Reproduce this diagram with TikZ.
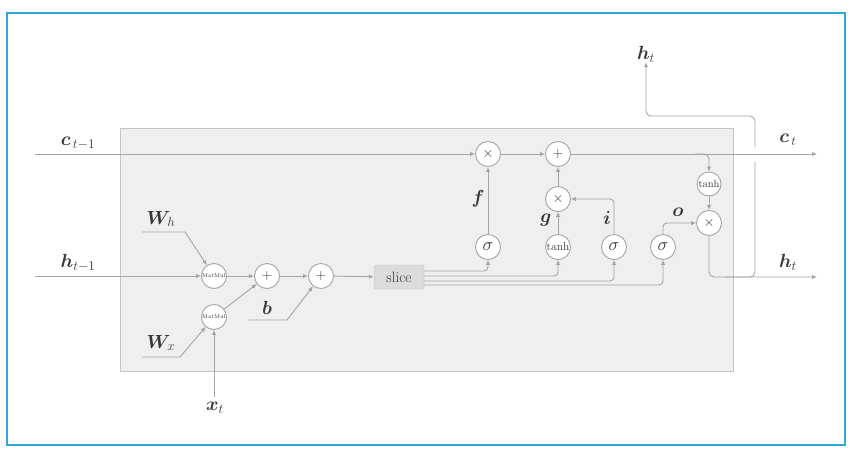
\RequirePackage{fix-cm}
\documentclass[tikz,border=0pt]{standalone}
\usepackage{amsmath,bm}
\usetikzlibrary{arrows.meta}
\definecolor{lncol}{HTML}{A5A5A5}
\definecolor{txtcol}{HTML}{383838}
\definecolor{boxfill}{HTML}{EFEFEF}
\definecolor{boxline}{HTML}{C4C4C4}
\definecolor{framecol}{HTML}{2FA7DD}
\definecolor{slicefill}{HTML}{DCDCDC}
\tikzset{
  opnode/.style={circle, draw=lncol, fill=white, line width=0.9pt, minimum size=25pt, inner sep=0pt, text=txtcol},
  lbl/.style={text=txtcol, font=\fontsize{19}{22}\selectfont, inner sep=0pt},
  glbl/.style={text=txtcol, font=\fontsize{19}{22}\selectfont, inner sep=0pt},
  conn/.style={draw=lncol, line width=0.9pt},
  arr/.style={conn, -{Latex[length=5pt,width=4.5pt]}},
  sym/.style={font=\fontsize{14}{16}\selectfont},
  sig/.style={font=\fontsize{18}{20}\selectfont},
  th/.style={font=\fontsize{11.5}{13}\selectfont},
  mm/.style={font=\fontsize{5.5}{6}\selectfont},
}
\begin{document}
\begin{tikzpicture}[x=1pt,y=-1pt]
\useasboundingbox (0,0) rectangle (852,448);
\draw[framecol, line width=1.3pt] (7,13) rectangle (845,445);
% gray box
\draw[boxline, fill=boxfill, line width=0.8pt] (120,128) rectangle (733,371);

% input labels and coordinates
\coordinate (cin) at (35,154);
\coordinate (hin) at (35,276);
\node[lbl] (clab) at (78,143) {$\bm{c}_{\,t-1}$};
\node[lbl] (hlab) at (78,263) {$\bm{h}_{t-1}$};
\node[lbl] (whlab) at (161,219) {$\bm{W}_{h}$};
\node[lbl] (wxlab) at (161,343) {$\bm{W}_{x}$};
\node[lbl] (xlab) at (215,408) {$\bm{x}_{t}$};
\node[glbl] (blab) at (267,308) {$\bm{b}$};
\coordinate (wh0) at (142,232);
\coordinate (wh1) at (185,232);
\coordinate (wx0) at (142,357);
\coordinate (wx1) at (180,357);
\coordinate (b0) at (248,320);
\coordinate (b1) at (287,320);
\coordinate (x0) at (214,397);

% operation nodes
\node[opnode, mm] (mm1) at (214,276) {MatMul};
\node[opnode, mm] (mm2) at (214,317) {MatMul};
\node[opnode, sym] (p1) at (267,276) {$+$};
\node[opnode, sym] (p2) at (321,276) {$+$};
\node[draw=boxline, fill=slicefill, rounded corners=1.5pt, minimum width=50pt, minimum height=24pt, inner sep=0pt, text=txtcol, font=\fontsize{15}{17}\selectfont] (slice) at (399,277) {slice};
\node[opnode, sig] (sf) at (488,247) {$\sigma$};
\node[opnode, th] (tg) at (558,247) {tanh};
\node[opnode, sig] (si) at (614,247) {$\sigma$};
\node[opnode, sig] (so) at (663,247) {$\sigma$};
\node[opnode, sym] (xf) at (488,154) {$\times$};
\node[opnode, sym] (pc) at (558,154) {$+$};
\node[opnode, sym] (xg) at (558,199) {$\times$};
\node[opnode, th, font=\fontsize{10.5}{12}\selectfont, minimum size=24pt] (tc) at (709,184) {tanh};
\node[opnode, sym] (xo) at (709,223) {$\times$};

% gate labels
\node[glbl] (flab) at (478,199) {$\bm{f}$};
\node[glbl] (glab) at (546,220) {$\bm{g}$};
\node[glbl] (ilab) at (607,218) {$\bm{i}$};
\node[glbl] (olab) at (678,212) {$\bm{o}$};

% outputs
\coordinate (cout) at (817,154);
\coordinate (hout) at (817,277);
\node[lbl] (ctlab) at (788,140) {$\bm{c}_{\,t}$};
\node[lbl] (htlab) at (788,262) {$\bm{h}_{t}$};
\node[lbl] (httop) at (646,54) {$\bm{h}_{t}$};

% connectors
\draw[arr] (cin) -- (xf);
\draw[arr] (hin) -- (mm1);
\draw[arr] (wh0) -- (wh1) -- (mm1);
\draw[arr] (wx0) -- (wx1) -- (mm2);
\draw[arr] (x0) -- (mm2);
\draw[arr] (mm1) -- (p1);
\draw[arr] (mm2) -- (p1);
\draw[arr] (p1) -- (p2);
\draw[arr] (b0) -- (b1) -- (p2);
\draw[arr] (p2) -- (slice);
\draw[arr, rounded corners=4pt] ([yshift=6pt]slice.east) -| (sf);
\draw[arr, rounded corners=4pt] ([yshift=1pt]slice.east) -| (tg);
\draw[arr, rounded corners=4pt] ([yshift=-4pt]slice.east) -| (si);
\draw[arr, rounded corners=4pt] ([yshift=-8pt]slice.east) -| (so);
\draw[arr] (sf) -- (xf);
\draw[arr] (xf) -- (pc);
\draw[arr] (tg) -- (xg);
\draw[arr] (xg) -- (pc);
\draw[arr, rounded corners=4pt] (si.north) |- (xg.east);
\draw[arr, rounded corners=4pt] (so.north) |- (xo.west);
\draw[arr] (pc) -- (cout);
\coordinate (cbr) at (695,154);
\draw[arr, rounded corners=5pt] (cbr) -| (tc);
\draw[arr] (tc) -- (xo);
\draw[arr, rounded corners=5pt] (xo.south) |- (hout);
% branch of h_t going up
\coordinate (hb0) at (725,277);
\coordinate (hb1) at (755,277);
\coordinate (hb2) at (755,162);
\coordinate (hb3) at (755,147);
\coordinate (hb4) at (755,116);
\coordinate (hb5) at (646,116);
\draw[conn, rounded corners=5pt] (hb0) -- (hb1) -- (hb2);
\draw[arr, rounded corners=5pt] (hb3) -- (hb4) -- (hb5) -- (httop);
\end{tikzpicture}
\end{document}
